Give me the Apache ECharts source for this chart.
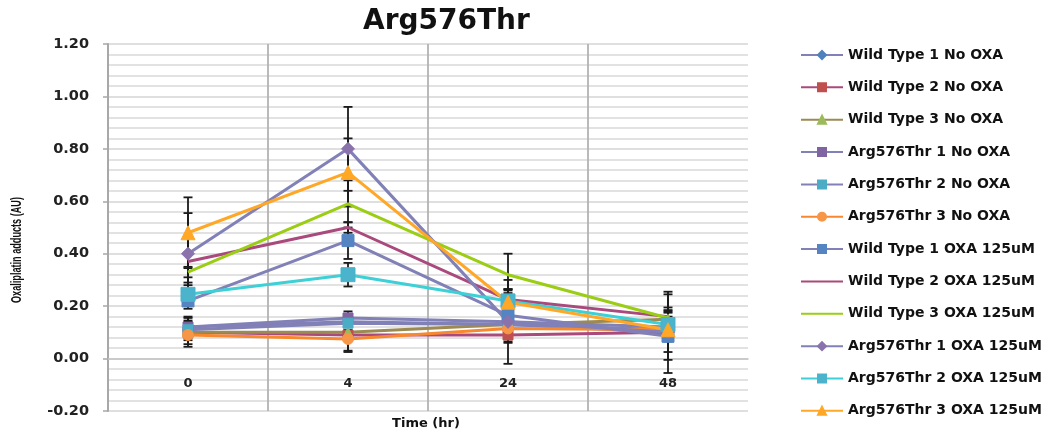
<!DOCTYPE html>
<html>
<head>
<meta charset="utf-8">
<title>Arg576Thr</title>
<script src="https://cdn.jsdelivr.net/npm/echarts@6/dist/echarts.min.js"></script>
<style>
  html, body { margin: 0; padding: 0; background: #ffffff; }
  #chart { width: 1054px; height: 437px; }
</style>
</head>
<body>
<div id="chart"></div>
<script>
// Time points (hours)
const timeLabels = ['0', '4', '24', '48'];

// Mean oxaliplatin adducts (AU) per time point
const wildType1NoOxa = [0.12, 0.14, 0.13, 0.10];
const wildType2NoOxa = [0.10, 0.09, 0.09, 0.10];
const wildType3NoOxa = [0.10, 0.10, 0.13, 0.15];
const arg1NoOxa = [0.12, 0.155, 0.14, 0.12];
const arg2NoOxa = [0.11, 0.135, 0.13, 0.11];
const arg3NoOxa = [0.09, 0.075, 0.115, 0.11];
const wildType1Oxa = [0.22, 0.45, 0.165, 0.085];
const wildType2Oxa = [0.37, 0.50, 0.225, 0.16];
const wildType3Oxa = [0.33, 0.59, 0.32, 0.155];
const arg1Oxa = [0.40, 0.80, 0.14, 0.10];
const arg2Oxa = [0.245, 0.32, 0.22, 0.13];
const arg3Oxa = [0.48, 0.71, 0.215, 0.11];

// Error bar half-widths (AU)
const wildType1NoOxaErr = [0.035, 0.03, 0.03, 0.03];
const wildType2NoOxaErr = [0.045, 0.065, 0.03, 0.03];
const wildType3NoOxaErr = [0.03, 0.03, 0.03, 0.03];
const arg1NoOxaErr = [0.04, 0.025, 0.03, 0.03];
const arg2NoOxaErr = [0.03, 0.03, 0.03, 0.03];
const arg3NoOxaErr = [0.045, 0.045, 0.03, 0.03];
const wildType1OxaErr = [0.03, 0.07, 0.10, 0.09];
const wildType2OxaErr = [0.09, 0.02, 0.04, 0.025];
const wildType3OxaErr = [0.02, 0.09, 0.08, 0.09];
const arg1OxaErr = [0.155, 0.16, 0.16, 0.155];
const arg2OxaErr = [0.045, 0.045, 0.04, 0.03];
const arg3OxaErr = [0.135, 0.13, 0.035, 0.085];

// Value axis range and step
const yMin = -0.2;
const yMax = 1.2;
const yStep = 0.2;

const lavender = '#8181b8';
const labelFont = '"DejaVu Sans", "Liberation Sans", sans-serif';

const seriesDefs = [
  { name: 'Wild Type 1 No OXA', values: wildType1NoOxa, err: wildType1NoOxaErr, line: lavender, marker: '#4f81bd', symbol: 'diamond', size: 9 },
  { name: 'Wild Type 2 No OXA', values: wildType2NoOxa, err: wildType2NoOxaErr, line: '#aa4a7c', marker: '#c0504d', symbol: 'rect', size: 10 },
  { name: 'Wild Type 3 No OXA', values: wildType3NoOxa, err: wildType3NoOxaErr, line: '#9c8a52', marker: '#9bbb59', symbol: 'triangle', size: 10 },
  { name: 'Arg576Thr 1 No OXA', values: arg1NoOxa, err: arg1NoOxaErr, line: lavender, marker: '#8064a2', symbol: 'rect', size: 10 },
  { name: 'Arg576Thr 2 No OXA', values: arg2NoOxa, err: arg2NoOxaErr, line: lavender, marker: '#4bacc6', symbol: 'rect', size: 10 },
  { name: 'Arg576Thr 3 No OXA', values: arg3NoOxa, err: arg3NoOxaErr, line: '#f7882f', marker: '#f79646', symbol: 'circle', size: 11 },
  { name: 'Wild Type 1 OXA 125uM', values: wildType1Oxa, err: wildType1OxaErr, line: lavender, marker: '#5485c2', symbol: 'rect', size: 12 },
  { name: 'Wild Type 2 OXA 125uM', values: wildType2Oxa, err: wildType2OxaErr, line: '#aa4a7c', marker: '#aa4a7c', symbol: 'none', size: 0 },
  { name: 'Wild Type 3 OXA 125uM', values: wildType3Oxa, err: wildType3OxaErr, line: '#9acd13', marker: '#9acd13', symbol: 'none', size: 0 },
  { name: 'Arg576Thr 1 OXA 125uM', values: arg1Oxa, err: arg1OxaErr, line: lavender, marker: '#8a73ad', symbol: 'diamond', size: 13 },
  { name: 'Arg576Thr 2 OXA 125uM', values: arg2Oxa, err: arg2OxaErr, line: '#3dd0d6', marker: '#4bb3cc', symbol: 'rect', size: 14 },
  { name: 'Arg576Thr 3 OXA 125uM', values: arg3Oxa, err: arg3OxaErr, line: '#ffa726', marker: '#ffa726', symbol: 'triangle', size: 14 }
];

// Plot box in pixels
const gridTop = 44;
const gridBottom = 26;
const chartHeight = 437;
const plotHeight = chartHeight - gridTop - gridBottom;
// the category axis sits on the zero line of the value axis
const zeroOffset = -plotHeight * (0 - yMin) / (yMax - yMin);

// Vertical error bar with caps, drawn at the category centre
function renderErrorBar(params, api) {
  const x = api.value(0);
  const v = api.value(1);
  const e = api.value(2);
  const top = api.coord([x, v + e]);
  const bot = api.coord([x, v - e]);
  const cap = 4.5;
  const style = { stroke: '#1a1a1a', lineWidth: 1.8 };
  return {
    type: 'group',
    children: [
      { type: 'line', shape: { x1: top[0], y1: top[1], x2: bot[0], y2: bot[1] }, style: style },
      { type: 'line', shape: { x1: top[0] - cap, y1: top[1], x2: top[0] + cap, y2: top[1] }, style: style },
      { type: 'line', shape: { x1: bot[0] - cap, y1: bot[1], x2: bot[0] + cap, y2: bot[1] }, style: style }
    ]
  };
}

const series = [];
seriesDefs.forEach(function (d) {
  series.push({
    type: 'custom',
    name: d.name + ' error',
    renderItem: renderErrorBar,
    data: d.values.map(function (v, i) { return [i, v, d.err[i]]; }),
    encode: { x: 0, y: 1 },
    z: 1,
    silent: true
  });
});
seriesDefs.forEach(function (d) {
  series.push({
    type: 'line',
    name: d.name,
    data: d.values,
    symbol: d.symbol,
    symbolSize: d.size,
    showSymbol: d.symbol !== 'none',
    lineStyle: { color: d.line, width: 3 },
    itemStyle: { color: d.marker, borderColor: d.marker, borderWidth: 1 },
    color: d.line,
    z: 3
  });
});

// Legend entries: series drawn without markers show only their line
const legendData = seriesDefs.map(function (d) {
  if (d.symbol === 'none') {
    return { name: d.name, itemStyle: { color: 'rgba(0,0,0,0)', borderColor: 'rgba(0,0,0,0)', borderWidth: 0 } };
  }
  return { name: d.name };
});

// Condensed vertical axis title: squeeze the text to a fixed run length
const yTitle = 'Oxaliplatin adducts (AU)';
const yTitleFont = 'bold 15px "Liberation Sans", sans-serif';
const measureCtx = document.createElement('canvas').getContext('2d');
measureCtx.font = yTitleFont;
const yTitleScale = 106 / measureCtx.measureText(yTitle).width;

const chart = echarts.init(document.getElementById('chart'), null, { renderer: 'canvas' });
chart.setOption({
  animation: false,
  backgroundColor: '#ffffff',
  textStyle: { fontFamily: labelFont },
  title: {
    text: 'Arg576Thr',
    left: 358,
    top: 3,
    textStyle: { fontSize: 28, fontWeight: 'bold', color: '#111', fontFamily: labelFont }
  },
  legend: {
    orient: 'vertical',
    left: 795,
    top: 42,
    itemWidth: 42,
    itemHeight: 10,
    itemGap: 16.35,
    data: legendData,
    textStyle: { fontSize: 14, fontWeight: 'bold', color: '#111', fontFamily: labelFont, lineHeight: 16 }
  },
  graphic: [{
    type: 'text',
    x: 17,
    y: 250,
    rotation: Math.PI / 2,
    scaleX: yTitleScale,
    style: {
      text: yTitle,
      fontSize: 15,
      fontWeight: 'bold',
      fontFamily: '"Liberation Sans", sans-serif',
      fill: '#111',
      textAlign: 'center',
      textVerticalAlign: 'middle'
    }
  }, {
    // horizontal axis title, centred under the plot
    type: 'text',
    x: 426,
    y: 424,
    style: {
      text: 'Time (hr)',
      fontSize: 13,
      fontWeight: 'bold',
      fontFamily: labelFont,
      fill: '#111',
      textAlign: 'center',
      textVerticalAlign: 'middle'
    }
  }],
  grid: { left: 108, right: 306, top: gridTop, bottom: gridBottom, containLabel: false, outerBoundsMode: 'none' },
  xAxis: {
    type: 'category',
    data: timeLabels,
    boundaryGap: true,
    offset: zeroOffset,
    axisLine: { onZero: false, lineStyle: { color: '#c4c4c4', width: 1.5 } },
    axisTick: { show: false },
    axisLabel: { fontSize: 13, fontWeight: 'bold', color: '#222', margin: 19, fontFamily: labelFont },
    splitLine: { show: true, showMinLine: false, showMaxLine: false, lineStyle: { color: '#b3b3b3', width: 1.8 } }
  },
  yAxis: {
    type: 'value',
    min: yMin,
    max: yMax,
    interval: yStep,
    axisLine: { show: true, lineStyle: { color: '#a8a8a8', width: 2 } },
    axisTick: { show: true, length: 5, lineStyle: { color: '#a8a8a8', width: 1.5 } },
    axisLabel: {
      fontSize: 14.5,
      fontWeight: 'bold',
      color: '#222',
      margin: 19,
      fontFamily: labelFont,
      formatter: function (v) { return v.toFixed(2); }
    },
    splitLine: { show: true, lineStyle: { color: '#d4d4d4', width: 1.5 } },
    minorTick: { show: false, splitNumber: 5 },
    minorSplitLine: { show: true, lineStyle: { color: '#d9d9d9', width: 1.5 } }
  },
  series: series
});
</script>
</body>
</html>
